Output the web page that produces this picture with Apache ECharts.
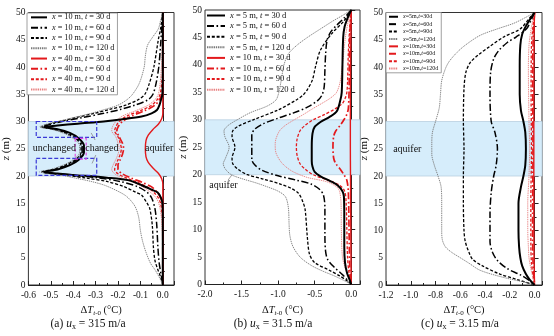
<!DOCTYPE html>
<html><head><meta charset="utf-8">
<script src="https://cdn.jsdelivr.net/npm/echarts@6/dist/echarts.min.js"></script>
<style>html,body{margin:0;padding:0;background:#fff}#c{width:554px;height:336px}</style>
</head><body><div id="c"></div>
<script>
// Temperature change profiles ΔT(z) for three groundwater velocities.
// Each curve: [ΔT (°C), z (m)] pairs from the surface (z = 50) to the base (z = 0).

// ---- (a) u_x = 315 m/a ----
const a_x10_t30 = [[0,50],[0,40],[-0.002,35],[-0.008,34],[-0.015,33],[-0.026,32.1],[-0.05,31.5],[-0.095,30.9],[-0.18,30.4],[-0.264,30],[-0.38,29.6],[-0.47,29.25],[-0.53,29],[-0.47,28.6],[-0.415,27.9],[-0.375,26.9],[-0.352,25.6],[-0.352,24.3],[-0.375,23],[-0.415,22],[-0.47,21.2],[-0.53,20.75],[-0.47,20.45],[-0.4,20.2],[-0.25,19.7],[-0.15,19.2],[-0.094,18.3],[-0.05,17.5],[-0.024,17],[-0.008,16],[-0.002,15],[0,13],[0,0]];
const a_x10_t60 = [[0,50],[-0.005,47],[-0.01,44],[-0.018,40],[-0.03,37],[-0.044,35],[-0.065,34],[-0.124,33],[-0.19,32.2],[-0.264,31.5],[-0.36,30.7],[-0.45,30],[-0.5,29.5],[-0.535,29],[-0.48,28.6],[-0.425,27.9],[-0.385,26.9],[-0.36,25.6],[-0.36,24.3],[-0.385,23],[-0.425,22],[-0.48,21.2],[-0.535,20.75],[-0.49,20.45],[-0.42,20.2],[-0.3,19.7],[-0.19,19],[-0.11,18],[-0.07,17],[-0.05,16],[-0.035,14],[-0.027,11],[-0.022,7],[-0.016,4],[-0.008,2],[-0.003,1],[0,0]];
const a_x10_t90 = [[0,50],[-0.01,47],[-0.02,45],[-0.04,40],[-0.06,37],[-0.08,35],[-0.11,34],[-0.166,33],[-0.24,32.2],[-0.306,31.5],[-0.39,30.7],[-0.46,30],[-0.51,29.5],[-0.54,29],[-0.49,28.6],[-0.435,27.9],[-0.39,26.9],[-0.365,25.6],[-0.365,24.3],[-0.39,23],[-0.435,22],[-0.49,21.2],[-0.54,20.75],[-0.5,20.45],[-0.44,20.2],[-0.34,19.6],[-0.25,19],[-0.17,18],[-0.12,17],[-0.095,16.5],[-0.07,15],[-0.058,14],[-0.047,11],[-0.042,7],[-0.035,4.5],[-0.022,2.8],[-0.01,1.5],[0,0]];
const a_x10_t120 = [[0,50],[-0.01,48.5],[-0.02,47],[-0.045,45.5],[-0.068,44],[-0.078,42],[-0.083,40],[-0.105,37],[-0.135,35],[-0.16,34],[-0.2,33],[-0.26,32.2],[-0.32,31.5],[-0.4,30.7],[-0.47,30],[-0.52,29.5],[-0.55,29],[-0.5,28.6],[-0.445,27.9],[-0.4,26.9],[-0.372,25.6],[-0.372,24.3],[-0.4,23],[-0.445,22],[-0.5,21.2],[-0.55,20.75],[-0.51,20.45],[-0.46,20.2],[-0.4,19.7],[-0.32,19],[-0.26,18.3],[-0.2,17.2],[-0.16,16.2],[-0.125,14.5],[-0.108,12.5],[-0.1,10],[-0.09,8],[-0.075,6],[-0.055,4],[-0.035,2.8],[-0.018,1.6],[-0.005,0.5],[0,0]];
const a_x40_t30 = [[0,50],[0,31.5],[-0.005,30.5],[-0.02,29.5],[-0.045,28.5],[-0.065,27.5],[-0.075,26.5],[-0.078,25],[-0.075,23.5],[-0.065,22.5],[-0.045,21.5],[-0.02,20.5],[-0.005,19.5],[0,18.5],[0,0]];
const a_x40_t60 = [[0,50],[0,37],[-0.005,35],[-0.015,34],[-0.035,33],[-0.08,32],[-0.14,31],[-0.18,30],[-0.2,29],[-0.205,28.3],[-0.195,27.2],[-0.18,26],[-0.175,25],[-0.18,24],[-0.19,23],[-0.2,22],[-0.2,21.2],[-0.18,20.4],[-0.14,19.6],[-0.09,18.8],[-0.05,18],[-0.025,17],[-0.01,16],[-0.003,15],[0,13],[0,0]];
const a_x40_t90 = [[0,50],[0,40],[-0.005,37],[-0.012,35],[-0.025,34],[-0.05,33],[-0.1,32],[-0.16,31],[-0.195,30],[-0.21,29],[-0.215,28.3],[-0.2,27.2],[-0.19,26],[-0.185,25],[-0.19,24],[-0.2,23],[-0.21,22],[-0.215,21.2],[-0.2,20.4],[-0.16,19.6],[-0.11,18.8],[-0.07,18],[-0.04,17],[-0.02,16],[-0.01,15],[-0.003,13],[0,11],[0,0]];
const a_x40_t120 = [[0,50],[-0.002,45],[-0.006,40],[-0.012,37],[-0.02,35],[-0.035,34],[-0.065,33],[-0.12,32],[-0.18,31],[-0.21,30],[-0.225,29],[-0.228,28.3],[-0.21,27.2],[-0.2,26],[-0.195,25],[-0.2,24],[-0.21,23],[-0.222,22],[-0.228,21.2],[-0.215,20.4],[-0.18,19.6],[-0.13,18.8],[-0.09,18],[-0.055,17],[-0.03,16],[-0.018,15],[-0.008,13],[-0.003,10],[0,7],[0,0]];

// ---- (b) u_x = 31.5 m/a ----
const b_x5_t30 = [[0,50],[-0.05,48.5],[-0.09,47],[-0.11,45],[-0.12,40],[-0.13,35],[-0.15,33.5],[-0.2,31.5],[-0.3,30.5],[-0.42,29.6],[-0.5,28.7],[-0.53,27.5],[-0.54,25],[-0.54,22.5],[-0.53,21.5],[-0.5,20.5],[-0.42,19.7],[-0.28,18.8],[-0.18,18],[-0.12,17],[-0.1,16],[-0.095,12],[-0.095,7],[-0.085,4],[-0.055,2],[-0.02,0.8],[0,0]];
const b_x5_t60 = [[0,50],[-0.1,48.5],[-0.2,47.2],[-0.28,46],[-0.33,44.5],[-0.35,42],[-0.36,39],[-0.37,36],[-0.4,34.5],[-0.46,33.5],[-0.6,32.3],[-0.8,31.2],[-1.0,30.3],[-1.2,29.3],[-1.32,28.3],[-1.36,27.3],[-1.36,25],[-1.36,22.8],[-1.32,21.8],[-1.22,20.8],[-1.0,19.8],[-0.75,19.0],[-0.55,18.3],[-0.43,17.3],[-0.38,16.3],[-0.36,14],[-0.36,9],[-0.35,6],[-0.32,4.5],[-0.22,3],[-0.12,1.8],[-0.05,0.8],[0,0]];
const b_x5_t90 = [[0,50],[-0.1,48],[-0.26,45.8],[-0.42,42.7],[-0.49,39.6],[-0.53,37.3],[-0.6,35.5],[-0.66,34.5],[-0.74,33.7],[-1.0,31.8],[-1.34,30],[-1.55,28.8],[-1.62,28],[-1.63,27],[-1.59,25],[-1.63,23],[-1.62,22],[-1.55,21],[-1.42,20],[-1.2,19.2],[-0.97,18.3],[-0.82,17.5],[-0.72,16.6],[-0.66,15],[-0.63,13.6],[-0.6,8.6],[-0.57,5.5],[-0.5,4],[-0.3,2.6],[-0.15,1.5],[-0.05,0.6],[0,0]];
const b_x5_t120 = [[0,50],[-0.12,49],[-0.25,48],[-0.38,46.9],[-0.6,45],[-0.75,43.5],[-0.86,42],[-0.92,40],[-0.96,37],[-0.99,35],[-1.03,33.6],[-1.15,32.5],[-1.38,31.3],[-1.56,30],[-1.68,29],[-1.74,28],[-1.73,27],[-1.67,25],[-1.72,23],[-1.75,22],[-1.72,21],[-1.64,20],[-1.5,19.3],[-1.3,18.5],[-1.15,17.8],[-1.0,17],[-0.9,16],[-0.86,14],[-0.85,11],[-0.84,9],[-0.8,7],[-0.7,5],[-0.55,3.5],[-0.4,2.5],[-0.22,1.5],[-0.08,0.6],[0,0]];
const b_x10_t30 = [[0,50],[-0.005,45],[-0.01,38],[-0.012,30],[-0.012,25],[-0.01,20],[-0.006,10],[-0.003,4],[0,0]];
const b_x10_t60 = [[0,50],[-0.02,45],[-0.03,35],[-0.04,32],[-0.06,31],[-0.1,30],[-0.15,29],[-0.21,28],[-0.24,27],[-0.25,25],[-0.24,23],[-0.21,22],[-0.15,21],[-0.1,20],[-0.06,19],[-0.04,17],[-0.03,10],[-0.02,3],[-0.008,1],[0,0]];
const b_x10_t90 = [[0,50],[-0.02,47],[-0.04,42],[-0.05,37],[-0.06,35],[-0.08,34],[-0.12,33],[-0.22,32],[-0.36,31],[-0.52,30],[-0.63,29],[-0.7,28],[-0.74,26.5],[-0.75,25],[-0.74,23.5],[-0.7,22],[-0.63,21],[-0.52,20],[-0.32,19],[-0.16,18.1],[-0.09,17],[-0.07,15],[-0.06,10],[-0.05,5],[-0.03,2],[0,0]];
const b_x10_t120 = [[0,50],[-0.04,48],[-0.08,45],[-0.12,40],[-0.15,37],[-0.2,35],[-0.28,34],[-0.4,33],[-0.53,32],[-0.65,31],[-0.78,30],[-0.9,29],[-0.98,28],[-1.03,26.5],[-1.04,25.5],[-1.03,24],[-0.97,22.5],[-0.9,21.5],[-0.79,20.5],[-0.6,19.5],[-0.33,18.7],[-0.2,17.8],[-0.16,17],[-0.14,15],[-0.135,10],[-0.12,5],[-0.07,2.5],[-0.02,0.8],[0,0]];

// ---- (c) u_x = 3.15 m/a ----
const c_x5_t30 = [[0,50],[-0.03,49],[-0.07,47.5],[-0.1,46],[-0.115,44],[-0.12,40],[-0.12,35],[-0.11,32],[-0.09,30],[-0.075,28],[-0.07,25],[-0.075,22],[-0.09,20],[-0.11,18],[-0.13,15],[-0.13,10],[-0.125,7],[-0.115,5],[-0.1,3.5],[-0.07,2],[-0.04,1],[0,0]];
const c_x5_t60 = [[0,50],[-0.03,48.5],[-0.065,47],[-0.15,45.5],[-0.22,44.5],[-0.29,43],[-0.33,41.5],[-0.355,39],[-0.36,35],[-0.35,30],[-0.32,28],[-0.3,25],[-0.31,22],[-0.33,20],[-0.35,17],[-0.36,13],[-0.36,8],[-0.34,6],[-0.3,4.5],[-0.22,3],[-0.11,1.8],[-0.04,0.8],[0,0]];
const c_x5_t90 = [[0,50],[-0.04,49],[-0.115,47],[-0.25,45.5],[-0.36,43.8],[-0.45,42.3],[-0.52,40.8],[-0.555,39],[-0.57,36],[-0.575,30],[-0.57,25],[-0.575,20],[-0.575,15],[-0.57,10],[-0.56,8],[-0.53,6],[-0.5,4.7],[-0.42,3.5],[-0.28,2],[-0.14,1],[0,0]];
const c_x5_t120 = [[0,50],[-0.08,49],[-0.17,48],[-0.3,47],[-0.44,45.8],[-0.56,44],[-0.63,42.6],[-0.69,41],[-0.72,39.7],[-0.75,37.5],[-0.76,35],[-0.77,32.5],[-0.8,30],[-0.825,28],[-0.83,26],[-0.83,24],[-0.81,22],[-0.78,20],[-0.755,18],[-0.75,15],[-0.75,10],[-0.745,8.3],[-0.72,7],[-0.67,6],[-0.6,5],[-0.53,4],[-0.44,2.7],[-0.27,1.5],[-0.08,0.5],[0,0]];
const c_x10_t30 = [[0,50],[-0.004,46],[-0.006,30],[-0.006,10],[-0.003,3],[0,0]];
const c_x10_t60 = [[0,50],[-0.01,46],[-0.015,40],[-0.013,25],[-0.016,10],[-0.012,4],[0,0]];
const c_x10_t90 = [[0,50],[-0.015,47],[-0.025,44],[-0.028,35],[-0.025,25],[-0.03,15],[-0.03,8],[-0.025,4],[-0.008,1],[0,0]];
const c_x10_t120 = [[0,50],[-0.02,48],[-0.035,46],[-0.045,44],[-0.05,40],[-0.045,30],[-0.04,25],[-0.045,20],[-0.055,15],[-0.055,10],[-0.05,7],[-0.045,5],[-0.03,3],[-0.01,1],[0,0]];

// Aquifer layer (z, m)
const aquiferBase = 20, aquiferTop = 30;

// Legend texts
const legendA = ['{i|x} = 10 m, {i|t} = 30 d','{i|x} = 10 m, {i|t} = 60 d','{i|x} = 10 m, {i|t} = 90 d','{i|x} = 10 m, {i|t} = 120 d','{i|x} = 40 m, {i|t} = 30 d','{i|x} = 40 m, {i|t} = 60 d','{i|x} = 40 m, {i|t} = 90 d','{i|x} = 40 m, {i|t} = 120 d'];
const legendB = ['{i|x} = 5 m, {i|t} = 30 d','{i|x} = 5 m, {i|t} = 60 d','{i|x} = 5 m, {i|t} = 90 d','{i|x} = 5 m, {i|t} = 120 d','{i|x} = 10 m, {i|t} = 30 d','{i|x} = 10 m, {i|t} = 60 d','{i|x} = 10 m, {i|t} = 90 d','{i|x} = 10 m, {i|t} = 120 d'];
const legendC = ['{i|x}=5m,{i|t}=30d','{i|x}=5m,{i|t}=60d','{i|x}=5m,{i|t}=90d','{i|x}=5m,{i|t}=120d','{i|x}=10m,{i|t}=30d','{i|x}=10m,{i|t}=60d','{i|x}=10m,{i|t}=90d','{i|x}=10m,{i|t}=120d'];
const captions = ['(a) {i|u}{s|x} = 315 m/a','(b) {i|u}{s|x} = 31.5 m/a','(c) {i|u}{s|x} = 3.15 m/a'];

const FONT = '"Liberation Serif","Times New Roman",serif';
const DASHDOT = [7,2.5,1.6,2.5];
const styles = [
  {color:'#000000', width:2.0, type:'solid'},
  {color:'#000000', width:1.5, type:DASHDOT},
  {color:'#000000', width:1.3, type:[3,1.8]},
  {color:'#7a7a7a', width:0.9, type:[1.4,0.8]},
  {color:'#e3191c', width:1.4, type:'solid'},
  {color:'#e3191c', width:1.7, type:DASHDOT},
  {color:'#e3191c', width:1.3, type:[3,1.8]},
  {color:'#e88080', width:0.9, type:[1.4,0.8]}
];

const panels = [
  {curves:[a_x10_t30,a_x10_t60,a_x10_t90,a_x10_t120,a_x40_t30,a_x40_t60,a_x40_t90,a_x40_t120], labels:legendA,
   grid:{left:21, top:12.5, width:153, height:272.5}, x:{min:-0.6, max:0.05, interval:0.1}, nameGap:11},
  {curves:[b_x5_t30,b_x5_t60,b_x5_t90,b_x5_t120,b_x10_t30,b_x10_t60,b_x10_t90,b_x10_t120], labels:legendB,
   grid:{left:205, top:10, width:155, height:274.5}, x:{min:-2.0, max:0.12, interval:0.5}, nameGap:14},
  {curves:[c_x5_t30,c_x5_t60,c_x5_t90,c_x5_t120,c_x10_t30,c_x10_t60,c_x10_t90,c_x10_t120], labels:legendC,
   grid:{left:386, top:12.5, width:156, height:272.5}, x:{min:-1.2, max:0.06, interval:0.2}, nameGap:11}
];

const grids = [], xAxes = [], yAxes = [], series = [], legends = [];
const labelOf = {};

panels.forEach((p, i) => {
  grids.push(Object.assign({show:true, borderColor:'#333', borderWidth:1, backgroundColor:'rgba(0,0,0,0)'}, p.grid));
  xAxes.push({
    type:'value', gridIndex:i, min:p.x.min, max:p.x.max, interval:p.x.interval,
    name:'Δ{it|T}{si|t}{s|-0} (°C)', nameLocation:'middle', nameGap:16,
    nameTextStyle:{fontFamily:FONT, fontSize:10.5, color:'#111',
      rich:{it:{fontFamily:FONT, fontSize:10.5, fontStyle:'italic'},
            si:{fontFamily:FONT, fontSize:7, fontStyle:'italic', padding:[6,0,0,0]},
            s:{fontFamily:FONT, fontSize:7, padding:[6,0,0,0]}}},
    axisLine:{show:true, lineStyle:{color:'#222', width:1}},
    axisTick:{inside:true, length:4, lineStyle:{color:'#222'}},
    minorTick:{show:true, splitNumber:2, length:2, lineStyle:{color:'#222'}},
    axisLabel:{fontFamily:FONT, fontSize:9.5, color:'#111', margin:5, showMaxLabel:false,
      formatter: v => v.toFixed(1)},
    splitLine:{show:false}
  });
  yAxes.push({
    type:'value', gridIndex:i, min:0, max:50, interval:5,
    name:'{it|z} (m)', nameLocation:'middle', nameRotate:90, nameGap:p.nameGap,
    nameTextStyle:{fontFamily:FONT, fontSize:11, color:'#111', rich:{it:{fontFamily:FONT, fontSize:11, fontStyle:'italic'}}},
    axisLine:{show:true, lineStyle:{color:'#222', width:1}},
    axisTick:{inside:true, length:4, lineStyle:{color:'#222'}},
    minorTick:{show:true, splitNumber:2, length:2, lineStyle:{color:'#222'}},
    axisLabel:{fontFamily:FONT, fontSize:9.5, color:'#111', margin:3},
    splitLine:{show:false}
  });
  // aquifer band
  series.push({
    type:'line', xAxisIndex:i, yAxisIndex:i, data:[], silent:true, z:1,
    markArea:{silent:true, itemStyle:{color:'#d6edfb', borderColor:'#b9cfdf', borderWidth:0.8},
      data:[[{yAxis:aquiferBase},{yAxis:aquiferTop}]]}
  });
  const names = [];
  p.curves.forEach((d, k) => {
    const nm = 'p' + i + 'c' + k;
    labelOf[nm] = p.labels[k];
    names.push(nm);
    const st = styles[k];
    series.push({
      type:'line', name:nm, xAxisIndex:i, yAxisIndex:i, data:d, symbol:'none', showSymbol:false,
      smooth:0.3, z: k === 0 ? 6 : (k < 4 ? 5 : 4),
      lineStyle:{color:st.color, width:st.width, type:st.type},
      itemStyle:{color:st.color}
    });
  });
  legends.push(names);
});

const legendText = (fs) => ({fontFamily:FONT, fontSize:fs, color:'#111', lineHeight:fs + 0.5,
  rich:{i:{fontFamily:FONT, fontSize:fs, fontStyle:'italic', lineHeight:fs + 0.5}}});
// legend keys show only the line sample (no marker)
const legendCommon = {orient:'vertical', selectedMode:false, formatter: n => labelOf[n], itemStyle:{opacity:0}};

const option = {
  animation:false,
  backgroundColor:'#ffffff',
  grid:grids, xAxis:xAxes, yAxis:yAxes, series:series,
  legend:[
    Object.assign({}, legendCommon, {data:legends[0], left:27, top:13, itemWidth:16, itemHeight:9, itemGap:1.6,
      padding:[0,3,1,3], borderColor:'#888', borderWidth:0.8, backgroundColor:'#fff', textStyle:legendText(8.2)}),
    Object.assign({}, legendCommon, {data:legends[1], left:206, top:11, itemWidth:18, itemHeight:9, itemGap:1.6,
      padding:0, textStyle:legendText(8.5)}),
    Object.assign({}, legendCommon, {data:legends[2], left:386, top:12.5, itemWidth:9, itemHeight:6.5, itemGap:0.9,
      padding:[1,3,1,2], borderColor:'#888', borderWidth:0.8, backgroundColor:'#fff', textStyle:legendText(6)})
  ]
};

const chart = echarts.init(document.getElementById('c'), null, {renderer:'canvas'});
chart.setOption(option);

// Annotations placed in data coordinates of each panel
const px = (g, v, z) => chart.convertToPixel({gridIndex:g}, [v, z]);
const unchangedBoxes = [[-0.565, 30, -0.295, 27.1], [-0.565, 23.25, -0.295, 20.1]];
const changedBox = [-0.391, 26.9, -0.342, 23.1];
const texts = [
  {g:0, v:-0.484, z:25.1, t:'unchanged'},
  {g:0, v:-0.272, z:25.1, t:'changed'},
  {g:0, v:-0.016, z:25.1, t:'aquifer'},
  {g:1, v:-1.747, z:18.1, t:'aquifer'},
  {g:2, v:-1.028, z:24.8, t:'aquifer'}
];
const pointers = [
  {g:0, a:[-0.32, 27.9], b:[-0.302, 26.6]},
  {g:0, a:[-0.299, 23.85], b:[-0.316, 22.3]},
  {g:1, a:[-1.685, 19.0], b:[-1.63, 20.0]}
];
const rectFrom = (g, r) => {
  const p1 = px(g, r[0], r[1]), p2 = px(g, r[2], r[3]);
  return {x:Math.min(p1[0],p2[0]), y:Math.min(p1[1],p2[1]), width:Math.abs(p2[0]-p1[0]), height:Math.abs(p2[1]-p1[1])};
};
const graphics = [];
unchangedBoxes.forEach(r => graphics.push({type:'rect', shape:rectFrom(0, r), z:20,
  style:{fill:null, stroke:'#3a3ad6', lineWidth:1.2, lineDash:[4,2]}}));
graphics.push({type:'rect', shape:rectFrom(0, changedBox), z:20,
  style:{fill:null, stroke:'#e046e0', lineWidth:1.1, lineDash:[3,2]}});
pointers.forEach(p => {
  const a = px(p.g, p.a[0], p.a[1]), b = px(p.g, p.b[0], p.b[1]);
  graphics.push({type:'line', shape:{x1:a[0], y1:a[1], x2:b[0], y2:b[1]}, z:20, style:{stroke:'#8a8a8a', lineWidth:0.8}});
});
texts.forEach(t => {
  const p = px(t.g, t.v, t.z);
  graphics.push({type:'text', x:p[0], y:p[1], z:21,
    style:{text:t.t, font:'10px ' + FONT, fill:'#111', align:'center', verticalAlign:'middle'}});
});
const capX = [88, 273, 460];
captions.forEach((c, i) => graphics.push({type:'text', x:capX[i], y:324, z:21,
  style:{text:c, fontFamily:FONT, fontSize:11.5, fill:'#111', align:'center', verticalAlign:'middle',
    rich:{i:{fontFamily:FONT, fontSize:11.5, fontStyle:'italic'}, s:{fontFamily:FONT, fontSize:8, padding:[6,0,0,0]}}}}));
chart.setOption({graphic:graphics});
</script></body></html>
